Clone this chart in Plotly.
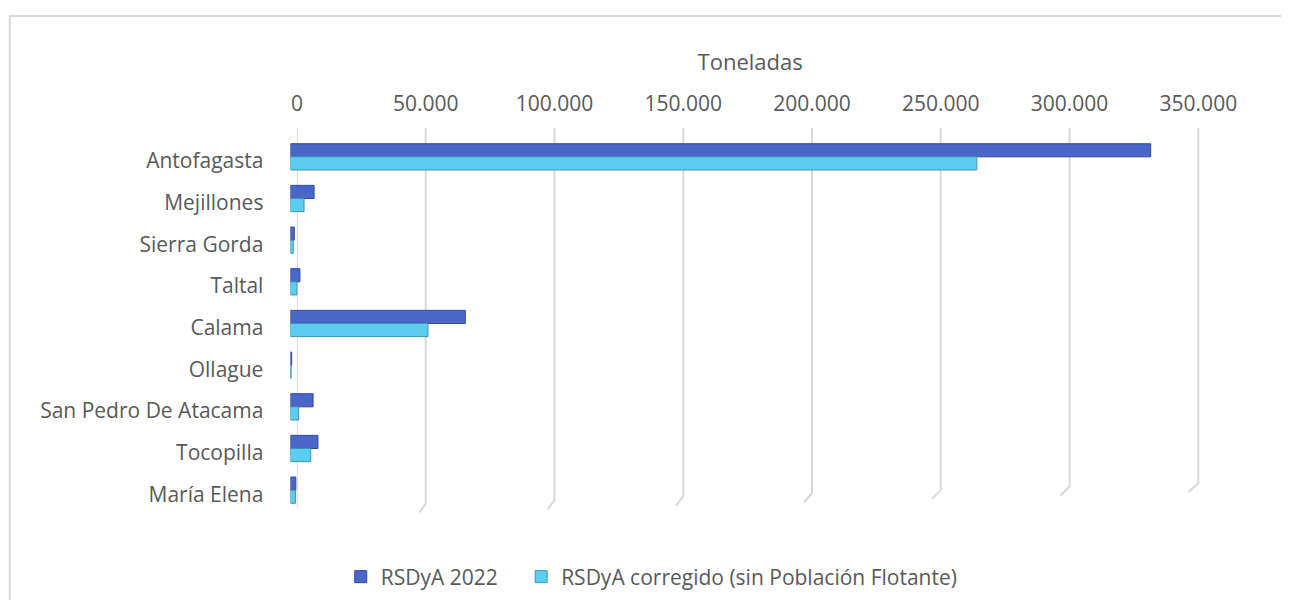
import plotly.graph_objects as go

# Comunas de la Región de Antofagasta (orden de arriba hacia abajo)
comunas = [
    "Antofagasta",
    "Mejillones",
    "Sierra Gorda",
    "Taltal",
    "Calama",
    "Ollague",
    "San Pedro De Atacama",
    "Tocopilla",
    "María Elena",
]

# toneladas
rsdya_2022 = [334000, 9200, 1500, 3700, 67900, 500, 8800, 10700, 2100]
rsdya_corregido = [266500, 5300, 1100, 2500, 53400, 300, 3200, 7900, 2000]

ticks = [0, 50000, 100000, 150000, 200000, 250000, 300000, 350000]

FONT = "Open Sans"
GREY_TEXT = "#595959"
GRID = "#d9d9d9"

# the page body has an 8px margin, so the figure is drawn 16px smaller
OFF = 8
W, H = 1289 - 2 * OFF, 608 - 2 * OFF

# positions below are window pixels; horizontal mapping measured from test renders
X0, XW = 12.2, 1238.0
PX_PER_50K = 129.2


def fx(x):
    return (x - X0) / XW


def fy(y):
    return 1 - (y - OFF) / H


def px_to_val(p):
    return p / PX_PER_50K * 50000


x_max = 352000
span = x_max / 50000 * PX_PER_50K

fig = go.Figure()

# back wall: ticks and axis title
fig.add_trace(
    go.Scatter(x=[None], y=[None], xaxis="x", yaxis="y", showlegend=False, hoverinfo="skip")
)

# front plane: the bars
fig.add_trace(
    go.Bar(
        name="RSDyA 2022",
        y=comunas,
        x=rsdya_2022,
        orientation="h",
        marker=dict(color="#4a66c8", line=dict(color="#34489c", width=1)),
        xaxis="x2",
        yaxis="y2",
        legend="legend",
    )
)
fig.add_trace(
    go.Bar(
        name="RSDyA corregido (sin Población Flotante)",
        y=comunas,
        x=rsdya_corregido,
        orientation="h",
        marker=dict(color="#5bcdf1", line=dict(color="#3d95b3", width=1)),
        xaxis="x2",
        yaxis="y2",
        legend="legend2",
    )
)

legend_style = dict(
    orientation="h",
    xanchor="left",
    y=fy(577),
    yanchor="middle",
    font=dict(size=21, color=GREY_TEXT),
    itemwidth=30,
    bgcolor="rgba(0,0,0,0)",
)

fig.update_layout(
    width=W,
    height=H,
    margin=dict(l=0, r=0, t=0, b=0),
    paper_bgcolor="white",
    plot_bgcolor="rgba(0,0,0,0)",
    separators=",.",
    barmode="group",
    bargap=0.37,
    bargroupgap=0,
    font=dict(family=FONT, color=GREY_TEXT, size=21),
    xaxis=dict(
        domain=[fx(296), fx(296 + span)],
        range=[0, x_max],
        side="top",
        tickvals=ticks,
        tickformat=",d",
        showgrid=False,
        zeroline=False,
        showline=False,
        ticks="",
        ticklabelstandoff=12,
        tickfont=dict(size=21, color=GREY_TEXT),
        title=dict(text="Toneladas", font=dict(size=22, color=GREY_TEXT), standoff=12),
        anchor="y",
        fixedrange=True,
    ),
    yaxis=dict(
        domain=[fy(490), fy(128)],
        range=[0, 1],
        visible=False,
        anchor="x",
        fixedrange=True,
    ),
    xaxis2=dict(
        domain=[fx(289.5), fx(289.5 + span)],
        range=[0, x_max],
        visible=False,
        anchor="y2",
        fixedrange=True,
    ),
    yaxis2=dict(
        domain=[fy(511), fy(136)],
        categoryorder="array",
        categoryarray=comunas,
        autorange="reversed",
        showgrid=False,
        zeroline=False,
        showline=False,
        ticks="",
        ticklabelstandoff=26,
        ticklabelshift=-4,
        tickfont=dict(size=21, color=GREY_TEXT),
        anchor="x2",
        fixedrange=True,
    ),
    legend=dict(legend_style, x=fx(340)),
    legend2=dict(legend_style, x=fx(521)),
    showlegend=True,
)

# 3D-style grid: vertical line on the back wall, then a short slanted bit
# down to the floor; the floor edge is tilted (lower on the left)
for v in ticks:
    t = v / 350000
    y_end = 507 - 24 * t
    dx = px_to_val(5.5 + 4.5 * t)
    path = "M {a},{y0} L {a},{y1} L {b},{y2}".format(
        a=v, b=v - dx, y0=fy(128), y1=fy(y_end), y2=fy(y_end + 9)
    )
    fig.add_shape(
        type="path",
        xref="x",
        yref="paper",
        path=path,
        line=dict(color=GRID, width=2),
        layer="below",
    )

# chart frame
fig.add_shape(
    type="rect",
    xref="paper",
    yref="paper",
    x0=fx(8),
    x1=1.1,
    y0=-0.05,
    y1=fy(16),
    line=dict(color=GRID, width=2),
    layer="below",
)

fig.write_html("out.html")
